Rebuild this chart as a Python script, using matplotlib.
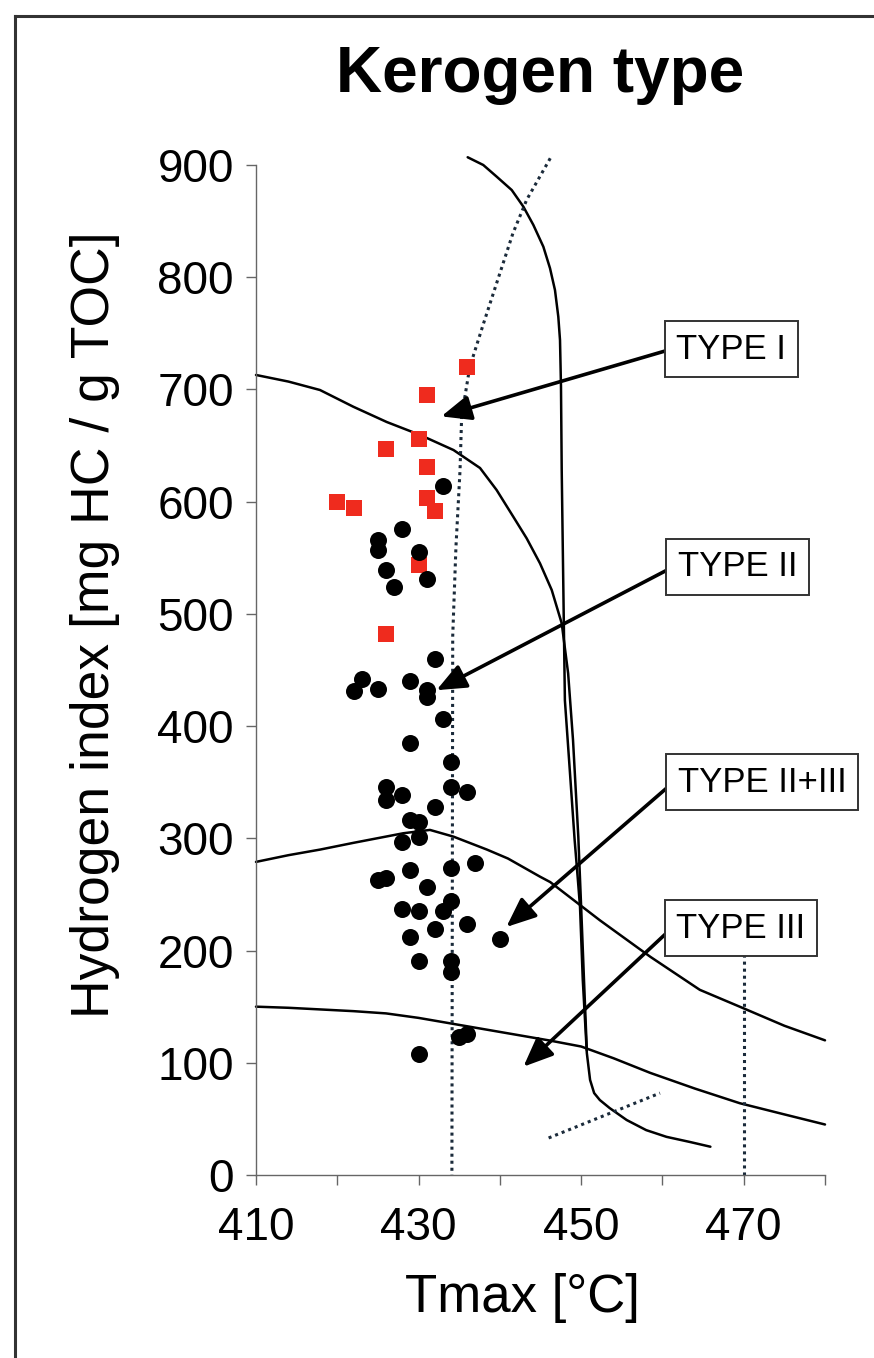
import matplotlib
matplotlib.use("Agg")
import matplotlib.pyplot as plt
from matplotlib.lines import Line2D

plt.rcParams['font.family'] = ['Liberation Sans', 'DejaVu Sans']

# ---------------- data ----------------
red_tmax = [436, 431, 430, 426, 431, 420, 422, 431, 432, 430, 426]
red_hi   = [720, 695, 656, 647, 631, 600, 594, 603, 592, 544, 482]

blk_tmax = [433, 428, 425, 425, 430, 426, 431, 427,
            432, 423, 422, 425, 429, 431, 431, 433, 429, 434, 426, 434, 436, 428,
            426, 432, 429, 430, 430, 428, 437, 434, 429, 426, 425, 431, 434, 433,
            428, 430, 436, 432, 429, 440, 430, 434, 434, 435, 436, 430]
blk_hi   = [614, 576, 566, 557, 555, 539, 531, 524,
            460, 442, 431, 433, 440, 432, 426, 406, 385, 368, 346, 346, 341, 339,
            334, 328, 316, 315, 301, 297, 278, 274, 272, 265, 263, 257, 244, 235,
            237, 235, 224, 219, 212, 210, 191, 191, 181, 123, 126, 108]

# boundary curves (Tmax, HI)
typeI_x  = [436.04, 437.96, 439.61, 441.46, 442.89, 444.12, 445.35, 446.17, 446.78, 447.19,
            447.40, 447.52, 447.61, 448.0, 448.6, 449.2, 449.6, 449.86, 450.2, 450.7,
            451.1, 451.6, 452.3, 453.5, 455.6, 458.0, 460.5, 463.4, 465.9]
typeI_y  = [906.9, 900.0, 889.6, 877.7, 862.9, 846.6, 827.2, 808.0, 788.6, 764.8,
            744.0, 702.5, 628.0, 423.0, 361.0, 298.5, 263.0, 239.0, 174.0, 108.7,
            84.7, 73.0, 66.8, 59.7, 49.0, 40.0, 34.0, 29.4, 25.2]

typeII_x = [410.0, 414.0, 417.87, 421.97, 426.08, 430.2, 434.3, 437.56, 439.6, 441.65,
            443.3, 444.94, 446.38, 447.61, 448.4, 449.0, 449.65, 450.0, 450.35, 450.7]
typeII_y = [712.9, 707.0, 699.5, 684.6, 671.0, 659.4, 646.0, 630.0, 610.4, 586.6,
            567.3, 545.0, 521.3, 491.6, 447.0, 387.6, 301.5, 239.0, 174.0, 111.0]

typeIII_x = [410, 414, 417.9, 422, 428.1, 431.4, 434.3, 438.4, 441, 444.9, 446.2, 452.3,
             458.5, 464.6, 469.5, 475, 480]
typeIII_y = [279, 285, 290, 296, 304.5, 307.5, 301.5, 290, 282, 266, 261, 227,
             194.5, 165, 150, 133, 120]

low_x = [410, 414, 418, 422, 426, 430, 434, 438, 442, 446, 450, 454, 458.5, 464, 469.5, 475, 480]
low_y = [150, 149, 147.5, 146, 144, 140, 135, 130, 125, 120, 114.5, 104, 91, 77, 64, 54, 45]

dot_x = [446.2, 443.3, 441.6, 440.0, 438.0, 436.3, 435.3, 435.1, 434.6, 434.2, 434.1]
dot_y = [906, 869, 839, 803.5, 759, 720, 676, 628, 560, 480, 0]

dot2_x = [470, 470]
dot2_y = [0, 210]

dot3_x = [446, 459.7]
dot3_y = [33, 73]

labels      = ['TYPE I', 'TYPE II', 'TYPE II+III', 'TYPE III']
label_x     = [461.7, 461.9, 461.9, 461.7]
label_y     = [736, 542, 350, 220]
arrow_tip_x = [432.8, 432.2, 440.8, 442.9]
arrow_tip_y = [676, 432, 221, 96.5]

xticks = [410, 420, 430, 440, 450, 460, 470, 480]
xticklabels = ['410', '', '430', '', '450', '', '470', '']
yticks = [0, 100, 200, 300, 400, 500, 600, 700, 800, 900]

# ---------------- figure ----------------
W, H = 874, 1358
fig = plt.figure(figsize=(W / 100, H / 100), dpi=100)
fig.patch.set_facecolor('white')

# outer frame (left and top edges visible)
fig.add_artist(Line2D([15 / W, 15 / W], [0, 1 - 16 / H], transform=fig.transFigure,
                      color='#333333', lw=2.2))
fig.add_artist(Line2D([15 / W, 1], [1 - 16 / H, 1 - 16 / H], transform=fig.transFigure,
                      color='#333333', lw=2.2))

ax = fig.add_axes([256 / W, 1 - 1175 / H, 569 / W, 1010 / H])
ax.set_xlim(410, 480)
ax.set_ylim(0, 900)
for s in ['top', 'right']:
    ax.spines[s].set_visible(False)
for s in ['left', 'bottom']:
    ax.spines[s].set_color('#666666')
    ax.spines[s].set_linewidth(1.0)

ax.set_xticks(xticks)
ax.set_xticklabels(xticklabels)
ax.set_yticks(yticks)
ax.tick_params(axis='both', direction='out', length=7, width=1.0, color='#666666',
               labelsize=33)
ax.tick_params(axis='x', pad=15)
ax.tick_params(axis='y', pad=9)

# curves
line_style = dict(color='black', lw=1.8, zorder=2, clip_on=False,
                  solid_joinstyle='round', solid_capstyle='round')
ax.plot(typeI_x, typeI_y, **line_style)
ax.plot(typeII_x, typeII_y, **line_style)
ax.plot(typeIII_x, typeIII_y, **line_style)
ax.plot(low_x, low_y, **line_style)
dot_style = dict(color='#1a2a3a', lw=2.2, linestyle=(0, (1, 1.3)), zorder=2, clip_on=False)
ax.plot(dot_x, dot_y, **dot_style)
ax.plot(dot2_x, dot2_y, **dot_style)
ax.plot(dot3_x, dot3_y, **dot_style)

# data points
ax.scatter(blk_tmax, blk_hi, s=150, marker='o', color='black', zorder=4, linewidths=0)
ax.scatter(red_tmax, red_hi, s=140, marker='s', color='#ef2b1e', zorder=3, linewidths=0)

# labels and arrows
for lab, lx, ly, tx, ty in zip(labels, label_x, label_y, arrow_tip_x, arrow_tip_y):
    ax.text(lx, ly, lab, fontsize=25, ha='left', va='center', zorder=6,
            bbox=dict(boxstyle='square,pad=0.33', fc='white', ec='#333333', lw=1.4))
    ax.annotate('', xy=(tx, ty), xytext=(lx - 0.55, ly), zorder=5,
                arrowprops=dict(arrowstyle='-|>,head_length=0.9,head_width=0.38',
                                lw=2.6, color='black', shrinkA=0, shrinkB=0,
                                mutation_scale=20))

fig.text(540 / W, 1 - 75 / H, 'Kerogen type', fontsize=46, fontweight='bold',
         ha='center', va='center')
fig.text(95 / W, 1 - 625 / H, 'Hydrogen index [mg HC / g TOC]', fontsize=38.5,
         rotation=90, ha='center', va='center')
fig.text(522 / W, 1 - 1298 / H, 'Tmax [°C]', fontsize=38, ha='center', va='center')

fig.savefig('out.png', dpi=100)
